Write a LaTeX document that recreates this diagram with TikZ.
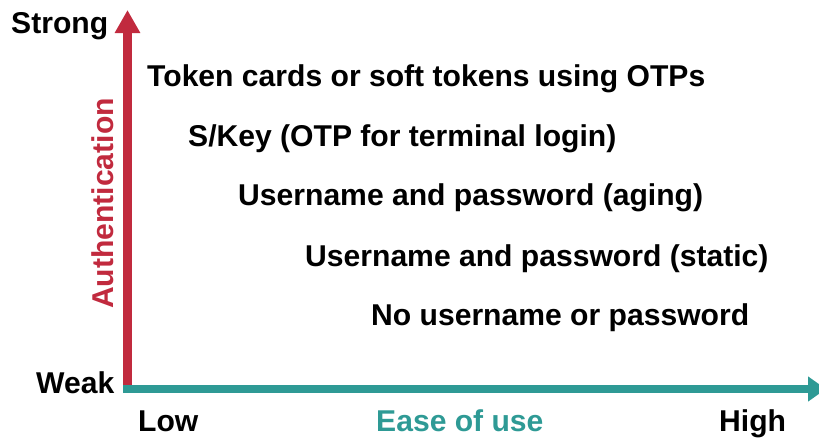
\documentclass[tikz,border=0pt]{standalone}
\usepackage{fontspec}
\setmainfont{Liberation Sans}
\usetikzlibrary{arrows.meta}
\definecolor{authred}{RGB}{193,42,62}
\definecolor{easeteal}{RGB}{46,154,149}
\begin{document}
\begin{tikzpicture}[x=1pt,y=-1pt,
  lbl/.style={anchor=base west,inner sep=0pt,font=\fontsize{30.1}{32}\selectfont\bfseries},
  axis/.style={line width=8.5pt}]
\useasboundingbox (0,0) rectangle (819,439);

% axis end points
\coordinate (origin) at (127.5,393);
\coordinate (ytop) at (127.5,10);
\coordinate (xstart) at (123,389);
\coordinate (xend) at (826,389);

% vertical axis: authentication strength
\draw[axis,authred,-{Triangle[length=23pt,width=24pt]}] (origin) -- (ytop);
% horizontal axis: ease of use
\draw[axis,easeteal,-{Triangle[length=18pt,width=24pt]}] (xstart) -- (xend);

% axis labels
\node[lbl] (strong) at (11,33) {Strong};
\node[lbl] (weak) at (36,393) {Weak};
\node[lbl] (low) at (138,431) {Low};
\node[lbl,text=easeteal] (ease) at (376,431) {Ease of use};
\node[lbl] (high) at (719,431) {High};
\node[lbl,text=authred,rotate=90] (auth) at (113,309) {Authentication};

% methods, from strongest to weakest
\node[lbl] (token) at (147,86) {Token cards or soft tokens using OTPs};
\node[lbl] (skey) at (188,146) {S/Key (OTP for terminal login)};
\node[lbl] (aging) at (238,205) {Username and password (aging)};
\node[lbl] (static) at (305,266) {Username and password (static)};
\node[lbl] (none) at (371,325) {No username or password};
\end{tikzpicture}
\end{document}
